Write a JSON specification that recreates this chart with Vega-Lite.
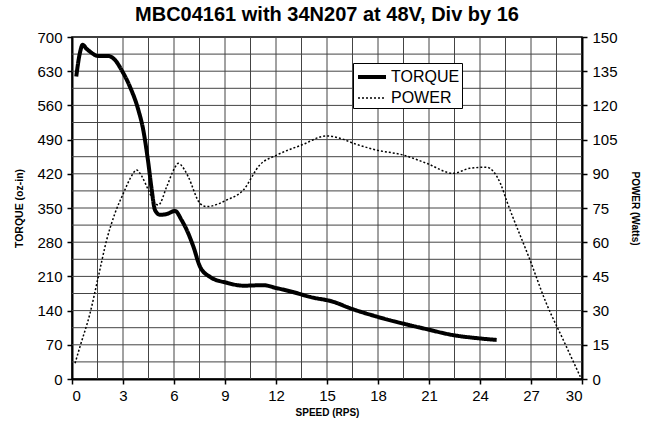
{
  "$schema": "https://vega.github.io/schema/vega-lite/v6.json",
  "autosize": "none",
  "width": 510,
  "height": 342,
  "padding": {"left": 72, "top": 37, "right": 71, "bottom": 58},
  "background": "white",
  "title": {"text": "MBC04161 with 34N207 at 48V, Div by 16", "fontSize": 20, "font": "Liberation Sans", "fontWeight": "bold", "anchor": "middle", "offset": 5, "color": "black"},
  "config": {
    "font": "Liberation Sans",
    "view": {"stroke": "black", "strokeWidth": 1.5},
    "axis": {"labelFont": "Liberation Sans", "labelFontSize": 15, "labelColor": "black", "labelOverlap": false, "titleFont": "Liberation Sans", "titleFontSize": 10, "titleFontWeight": "bold", "titleColor": "black", "domainColor": "black", "domainWidth": 2, "tickColor": "black", "tickSize": 5, "tickWidth": 1.5, "grid": false}
  },
  "datasets": {
    "speedGrid": [{"g": 1.5}, {"g": 3}, {"g": 4.5}, {"g": 6}, {"g": 7.5}, {"g": 9}, {"g": 10.5}, {"g": 12}, {"g": 13.5}, {"g": 15}, {"g": 16.5}, {"g": 18}, {"g": 19.5}, {"g": 21}, {"g": 22.5}, {"g": 24}, {"g": 25.5}, {"g": 27}, {"g": 28.5}],
    "torqueGrid": [{"g": 35}, {"g": 70}, {"g": 105}, {"g": 140}, {"g": 175}, {"g": 210}, {"g": 245}, {"g": 280}, {"g": 315}, {"g": 350}, {"g": 385}, {"g": 420}, {"g": 455}, {"g": 490}, {"g": 525}, {"g": 560}, {"g": 595}, {"g": 630}, {"g": 665}],
    "curves": [
    {"s": "TORQUE", "x": 0.25, "v": 619},
    {"s": "TORQUE", "x": 0.45, "v": 665},
    {"s": "TORQUE", "x": 0.63, "v": 684},
    {"s": "TORQUE", "x": 0.85, "v": 676},
    {"s": "TORQUE", "x": 1.06, "v": 670},
    {"s": "TORQUE", "x": 1.55, "v": 661},
    {"s": "TORQUE", "x": 2.14, "v": 661},
    {"s": "TORQUE", "x": 2.53, "v": 653},
    {"s": "TORQUE", "x": 2.92, "v": 632},
    {"s": "TORQUE", "x": 3.41, "v": 598},
    {"s": "TORQUE", "x": 3.9, "v": 551},
    {"s": "TORQUE", "x": 4.19, "v": 510},
    {"s": "TORQUE", "x": 4.49, "v": 442},
    {"s": "TORQUE", "x": 4.69, "v": 387},
    {"s": "TORQUE", "x": 4.88, "v": 346},
    {"s": "TORQUE", "x": 5.18, "v": 336},
    {"s": "TORQUE", "x": 5.6, "v": 338},
    {"s": "TORQUE", "x": 6.06, "v": 344},
    {"s": "TORQUE", "x": 6.45, "v": 325},
    {"s": "TORQUE", "x": 6.75, "v": 305},
    {"s": "TORQUE", "x": 7.14, "v": 271},
    {"s": "TORQUE", "x": 7.53, "v": 230},
    {"s": "TORQUE", "x": 8.12, "v": 209},
    {"s": "TORQUE", "x": 9.1, "v": 197},
    {"s": "TORQUE", "x": 10.08, "v": 191},
    {"s": "TORQUE", "x": 11.25, "v": 192},
    {"s": "TORQUE", "x": 12.04, "v": 186},
    {"s": "TORQUE", "x": 13.0, "v": 178},
    {"s": "TORQUE", "x": 14.0, "v": 168},
    {"s": "TORQUE", "x": 15.37, "v": 158},
    {"s": "TORQUE", "x": 16.35, "v": 145},
    {"s": "TORQUE", "x": 17.9, "v": 128},
    {"s": "TORQUE", "x": 19.3, "v": 115},
    {"s": "TORQUE", "x": 20.86, "v": 102},
    {"s": "TORQUE", "x": 22.4, "v": 90},
    {"s": "TORQUE", "x": 24.0, "v": 83},
    {"s": "TORQUE", "x": 24.98, "v": 80},
    {"s": "POWER", "x": 0.18, "v": 6.9},
    {"s": "POWER", "x": 0.47, "v": 14.2},
    {"s": "POWER", "x": 1.06, "v": 28.8},
    {"s": "POWER", "x": 1.55, "v": 44.9},
    {"s": "POWER", "x": 2.04, "v": 61},
    {"s": "POWER", "x": 2.53, "v": 72.7},
    {"s": "POWER", "x": 3.02, "v": 81.4},
    {"s": "POWER", "x": 3.5, "v": 89},
    {"s": "POWER", "x": 3.8, "v": 91.7},
    {"s": "POWER", "x": 4.1, "v": 89},
    {"s": "POWER", "x": 4.49, "v": 82.9},
    {"s": "POWER", "x": 4.8, "v": 78},
    {"s": "POWER", "x": 5.08, "v": 76.3},
    {"s": "POWER", "x": 5.57, "v": 84.3},
    {"s": "POWER", "x": 6.0, "v": 92},
    {"s": "POWER", "x": 6.25, "v": 94.6},
    {"s": "POWER", "x": 6.6, "v": 92},
    {"s": "POWER", "x": 6.84, "v": 88.7},
    {"s": "POWER", "x": 7.53, "v": 77},
    {"s": "POWER", "x": 7.92, "v": 75.6},
    {"s": "POWER", "x": 9.1, "v": 78.5},
    {"s": "POWER", "x": 10.08, "v": 82.9},
    {"s": "POWER", "x": 11.06, "v": 94},
    {"s": "POWER", "x": 12.04, "v": 98.2},
    {"s": "POWER", "x": 13.5, "v": 102.6},
    {"s": "POWER", "x": 14.98, "v": 106.6},
    {"s": "POWER", "x": 15.76, "v": 105.6},
    {"s": "POWER", "x": 16.55, "v": 103.4},
    {"s": "POWER", "x": 17.92, "v": 100.4},
    {"s": "POWER", "x": 19.5, "v": 98.2},
    {"s": "POWER", "x": 20.86, "v": 94.6},
    {"s": "POWER", "x": 22.43, "v": 90.2},
    {"s": "POWER", "x": 23.4, "v": 92.4},
    {"s": "POWER", "x": 24.4, "v": 92.9},
    {"s": "POWER", "x": 24.8, "v": 90.9},
    {"s": "POWER", "x": 25.2, "v": 85.8},
    {"s": "POWER", "x": 25.6, "v": 77.5},
    {"s": "POWER", "x": 26.94, "v": 52.2},
    {"s": "POWER", "x": 27.9, "v": 33.2},
    {"s": "POWER", "x": 28.9, "v": 17.1},
    {"s": "POWER", "x": 29.9, "v": 1}
    ]
  },
  "layer": [
    {
      "layer": [
        {
          "data": {"name": "speedGrid"},
          "mark": {"type": "rule", "color": "#444", "strokeWidth": 1},
          "encoding": {"x": {"field": "g", "type": "quantitative", "scale": {"domain": [0, 30], "nice": false}, "axis": {"title": "SPEED (RPS)", "values": [0, 3, 6, 9, 12, 15, 18, 21, 24, 27, 30], "labelPadding": 4, "titlePadding": 4, "labelOverlap": false}}}
        },
        {
          "data": {"name": "torqueGrid"},
          "mark": {"type": "rule", "color": "#444", "strokeWidth": 1},
          "encoding": {"y": {"field": "g", "type": "quantitative", "scale": {"domain": [0, 700], "nice": false}, "axis": {"title": "TORQUE (oz-in)", "values": [0, 70, 140, 210, 280, 350, 420, 490, 560, 630, 700], "labelPadding": 5, "titlePadding": 12, "titleFontSize": 10.5, "labelOverlap": false}}}
        },
        {
          "data": {"name": "curves"},
          "transform": [{"filter": "datum.s === 'TORQUE'"}],
          "mark": {"type": "line", "interpolate": "monotone", "color": "black"},
          "encoding": {
            "x": {"field": "x", "type": "quantitative", "scale": {"domain": [0, 30], "nice": false}, "axis": {"title": "SPEED (RPS)", "values": [0, 3, 6, 9, 12, 15, 18, 21, 24, 27, 30], "labelPadding": 4, "titlePadding": 4, "labelOverlap": false}},
            "y": {"field": "v", "type": "quantitative", "scale": {"domain": [0, 700], "nice": false}, "axis": {"title": "TORQUE (oz-in)", "values": [0, 70, 140, 210, 280, 350, 420, 490, 560, 630, 700], "labelPadding": 5, "titlePadding": 12, "titleFontSize": 10.5, "labelOverlap": false}},
            "strokeDash": {"field": "s", "type": "nominal", "scale": {"domain": ["TORQUE", "POWER"], "range": [[1, 0], [2, 2]]}, "legend": {"title": null, "orient": "none", "legendX": 281, "legendY": 26, "strokeColor": "black", "fillColor": "white", "padding": 2, "labelFontSize": 16, "labelFont": "Liberation Sans", "labelColor": "black", "symbolType": "M-1.4,0H1.4", "symbolSize": 400, "symbolOffset": 5, "symbolStrokeColor": "black", "rowPadding": 2, "labelOffset": 7}},
            "strokeWidth": {"field": "s", "type": "nominal", "scale": {"domain": ["TORQUE", "POWER"], "range": [4, 1.5]}, "legend": {"title": null, "orient": "none", "legendX": 281, "legendY": 26, "strokeColor": "black", "fillColor": "white", "padding": 2, "labelFontSize": 16, "labelFont": "Liberation Sans", "labelColor": "black", "symbolType": "M-1.4,0H1.4", "symbolSize": 400, "symbolOffset": 5, "symbolStrokeColor": "black", "rowPadding": 2, "labelOffset": 7}}
          }
        }
      ]
    },
    {
      "data": {"name": "curves"},
      "transform": [{"filter": "datum.s === 'POWER'"}],
      "mark": {"type": "line", "interpolate": "monotone", "color": "black"},
      "encoding": {
        "x": {"field": "x", "type": "quantitative"},
        "y": {"field": "v", "type": "quantitative", "scale": {"domain": [0, 150], "nice": false}, "axis": {"title": "POWER (Watts)", "orient": "right", "values": [0, 15, 30, 45, 60, 75, 90, 105, 120, 135, 150], "labelPadding": 5, "titlePadding": 12, "labelOverlap": false}},
        "strokeDash": {"field": "s", "type": "nominal"},
        "strokeWidth": {"field": "s", "type": "nominal"}
      }
    }
  ],
  "resolve": {"scale": {"y": "independent"}}
}
